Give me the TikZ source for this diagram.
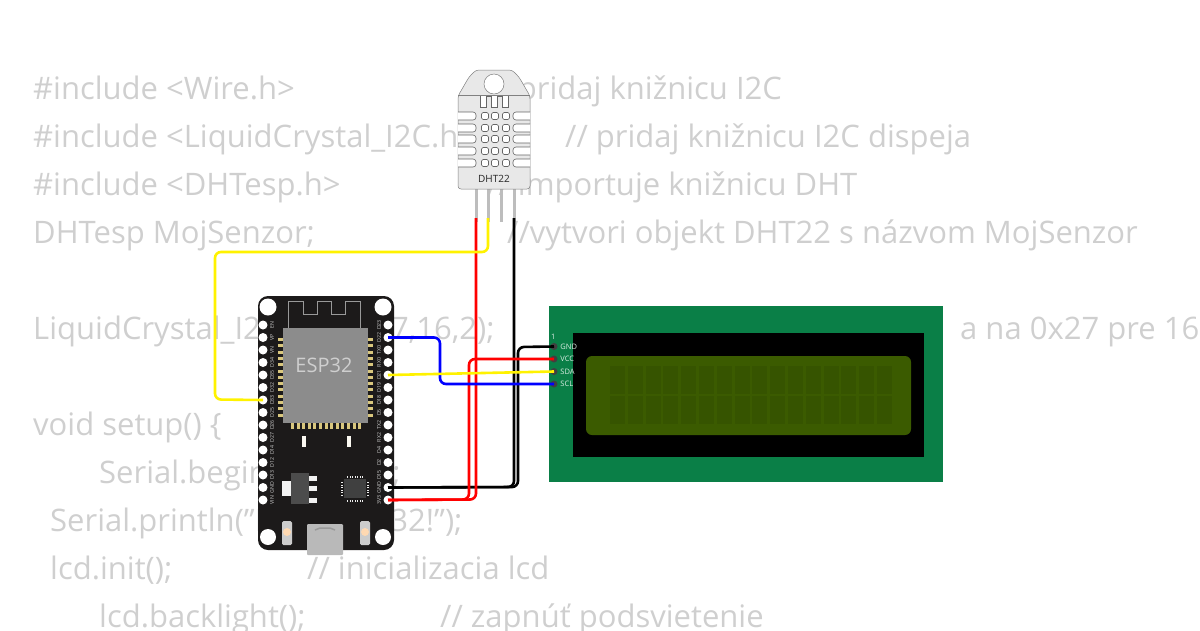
\documentclass[tikz,border=0pt]{standalone}
\usepackage{fontspec}
\setmainfont{Open Sans}
\usetikzlibrary{positioning}
\definecolor{codegray}{HTML}{CFCFCF}
\definecolor{boardblack}{HTML}{1C1A1A}
\definecolor{modgray}{HTML}{8C8C8C}
\definecolor{pingold}{HTML}{D9C77E}
\definecolor{lcdgreen}{HTML}{0A7F47}
\definecolor{lcdscreen}{HTML}{3B5B00}
\definecolor{lcdchar}{HTML}{365400}
\definecolor{dhtbody}{HTML}{E8E8E8}
\definecolor{dhtpin}{HTML}{BDBDBD}
\definecolor{wireyellow}{HTML}{FFF200}
\tikzset{
  codetext/.style={anchor=base west,inner sep=0pt,text=codegray,font=\fontsize{31}{31}\selectfont},
  hole/.style={circle,fill=white,inner sep=0pt,minimum size=#1},
  pinlabel/.style={inner sep=0pt,rotate=90,text=#1,font=\fontsize{5.2}{5.2}\selectfont},
  lcdlabel/.style={anchor=west,inner sep=0pt,text=white!85!lcdgreen,font=\fontsize{7.5}{7.5}\selectfont},
  lcdpin/.style={circle,fill=#1,inner sep=0pt,minimum size=7pt},
  wire/.style={line width=2.6pt,rounded corners=6pt,draw=#1},
}
\begin{document}
\begin{tikzpicture}[x=1pt,y=-1pt]
    \clip (0,0) rectangle (1200,630);

    % code behind the parts
    \node[codetext] (t1) at (33,99) {\#include <Wire.h>};
    \node[codetext] (t1b) at (487,99) {// pridaj knižnicu I2C};
    \node[codetext] (t2) at (33,147) {\#include <LiquidCrystal\_I2C.h>};
    \node[codetext] (t2b) at (565,147) {// pridaj knižnicu I2C dispeja};
    \node[codetext] (t3) at (33,195) {\#include <DHTesp.h>};
    \node[codetext] (t3b) at (487,195) {// importuje knižnicu DHT};
    \node[codetext] (t4) at (33,243) {DHTesp MojSenzor;};
    \node[codetext] (t4b) at (507,243) {//vytvori objekt DHT22 s názvom MojSenzor};
    \node[codetext] (t5) at (33,339) {LiquidCrystal\_I2C lcd(0x27,16,2);};
    \node[codetext] (t5b) at (960,339) {a na 0x27 pre 16};
    \node[codetext] (t6) at (33,435) {void setup() \{};
    \node[codetext] (t7) at (99,483) {Serial.begin(115200);};
    \node[codetext] (t8) at (50,531) {Serial.println("Hello ESP32!");};
    \node[codetext] (t9) at (50,579) {lcd.init();};
    \node[codetext] (t9b) at (307,579) {// inicializacia lcd};
    \node[codetext] (t10) at (99,627) {lcd.backlight();};
    \node[codetext] (t10b) at (440,627) {// zapnúť podsvietenie};

    % DHT22
    \foreach \x in {476,488,501,514}
      \draw[dhtpin,line width=3pt] (\x,185) -- (\x,222);
    \draw[fill=dhtbody,draw=gray,line width=0.5pt,rounded corners=3pt]
      (458,189) -- (458,96) -- (469,77) -- (476,70) -- (512,70) -- (519,77) -- (530,96) -- (530,189) -- cycle;
    \draw[gray,line width=0.5pt] (458,95) -- (530,95);
    \node[circle,draw=gray,fill=white,line width=0.5pt,inner sep=0pt,minimum size=20pt] (dhthole) at (494,84) {};
    \draw[fill=white,draw=gray!80!black,line width=0.6pt]
      (480,96) -- (480,107) -- (486,107) -- (486,96) -- (491,96) -- (491,107) -- (497,107) -- (497,96) -- (502,96) -- (502,107) -- (508,107) -- (508,96);
    \foreach \y in {116,128,139,151,163} {
      \draw[fill=white,draw=gray!80!black,line width=0.6pt,rounded corners=3pt]
        (458,\y-4) -- (476,\y-4) -- (476,\y+4) -- (458,\y+4);
      \draw[fill=white,draw=gray!80!black,line width=0.6pt,rounded corners=3pt]
        (530,\y-4) -- (513,\y-4) -- (513,\y+4) -- (530,\y+4);
      \foreach \x in {485,495,506}
        \draw[fill=white,draw=gray!80!black,line width=0.6pt,rounded corners=1.5pt]
          (\x-3.5,\y-3.5) rectangle (\x+3.5,\y+3.5);
    }
    \node[inner sep=0pt,text=black!85,font=\fontsize{10}{10}\selectfont] (dhtname) at (494,179) {DHT22};

    % ESP32 board
    \fill[boardblack,rounded corners=10pt] (258,296) rectangle (394,550);
    \node[hole=17pt] (mnt1) at (268,307) {};
    \node[hole=17pt] (mnt2) at (383,307) {};
    \node[hole=16pt] (mnt3) at (268,537) {};
    \node[hole=16pt] (mnt4) at (383,537) {};
    \draw[gray!80,line width=0.8pt]
      (288,328) -- (288,301) -- (303,301) -- (303,314) -- (317,314) -- (317,301) -- (331,301) -- (331,314) -- (345,314) -- (345,301) -- (360,301) -- (360,328);
    \foreach \i/\name [count=\n from 0] in {a/EN,b/VP,c/VN,d/D34,e/D35,f/D32,g/D33,h/D25,i/D26,j/D27,k/D14,l/D12,m/D13,n/GND,o/VIN} {
      \node[hole=9pt] (l\i) at (263,325+12.5*\n) {};
      \node[pinlabel=white!80!black] (ll\i) at (272,325+12.5*\n) {\name};
    }
    \foreach \i/\name [count=\n from 0] in {a/D23,b/D22,c/TX0,d/RX0,e/D21,f/D19,g/D18,h/D5,i/TX2,j/RX2,k/D4,l/D2,m/D15,n/GND,o/3V3} {
      \node[hole=9pt] (r\i) at (388,325+12.5*\n) {};
      \node[pinlabel=white!80!black] (rl\i) at (379,325+12.5*\n) {\name};
    }
    \foreach \n in {0,...,12} {
      \fill[pingold] (278,338+6.3*\n) rectangle (283,341+6.3*\n);
      \fill[pingold] (368,338+6.3*\n) rectangle (373,341+6.3*\n);
    }
    \foreach \n in {0,...,12}
      \fill[pingold] (291+5.6*\n,423) rectangle (294+5.6*\n,429);
    \fill[modgray] (283,328) rectangle (368,423);
    \node[inner sep=0pt,text=codegray,font=\fontsize{20}{20}\selectfont] (espname) at (324,365) {ESP32};
    \fill[white!90!pingold] (302,436) rectangle (306,447);
    \fill[white!90!pingold] (347,436) rectangle (351,447);
    % regulator
    \fill[white!90!gray] (282,481) rectangle (291,496);
    \fill[black!70] (291,473) rectangle (309,504);
    \foreach \y in {478,488,500}
      \fill[white!90!gray] (309,\y-2.5) rectangle (317,\y+2.5);
    % usb chip
    \fill[black!75] (344,479) rectangle (366,498);
    \foreach \n in {0,...,6} {
      \fill[white!85!gray] (347+2.5*\n,475.5) rectangle (348.2+2.5*\n,477.5);
      \fill[white!85!gray] (347+2.5*\n,499.5) rectangle (348.2+2.5*\n,501.5);
    }
    \foreach \n in {0,...,5} {
      \fill[white!85!gray] (341,482+2.5*\n) rectangle (343,483.2+2.5*\n);
      \fill[white!85!gray] (367,482+2.5*\n) rectangle (369,483.2+2.5*\n);
    }
    % usb and buttons
    \fill[gray!55,rounded corners=1pt] (307,524) rectangle (343,555);
    \draw[gray!80,line width=1.5pt] (315,530) -- (320,528) -- (330,528) -- (335,530);
    \foreach \x in {287,365} {
      \fill[gray!40,rounded corners=1.5pt] (\x-5,521) rectangle (\x+5,545);
      \fill[white!70!orange] (\x,532) circle (4);
    }

    % LCD
    \fill[lcdgreen] (549,306) rectangle (943,482);
    \fill[black] (573,333) rectangle (924,457);
    \fill[lcdscreen,rounded corners=6pt] (586,356) rectangle (911,435);
    \foreach \n in {0,...,15} {
      \fill[lcdchar] (610+17.8*\n,366) rectangle (625+17.8*\n,394);
      \fill[lcdchar] (610+17.8*\n,396) rectangle (625+17.8*\n,424);
    }
    \node[lcdlabel] (lcdone) at (551,337) {1};
    \node[lcdpin=black!75] (lcdgnd) at (554,346.5) {};
    \node[lcdpin=black!75] (lcdvcc) at (554,359) {};
    \node[lcdpin=black!75] (lcdsda) at (554,371.5) {};
    \node[lcdpin=black!75] (lcdscl) at (554,384) {};
    \node[lcdlabel,right=2.5pt of lcdgnd] (lgnd) {GND};
    \node[lcdlabel,right=2.5pt of lcdvcc] (lvcc) {VCC};
    \node[lcdlabel,right=2.5pt of lcdsda] (lsda) {SDA};
    \node[lcdlabel,right=2.5pt of lcdscl] (lscl) {SCL};

    % dht pin ends
    \coordinate (dhtvcc) at (476,218);
    \coordinate (dhtdata) at (488,218);
    \coordinate (dhtgnd) at (514,218);

    % wires
    \draw[wire=black] (rn.center) -- (514,487) -- (dhtgnd);
    \draw[wire=black] (rn.center) -- (518,487) -- (518,347) -- (lcdgnd.center);
    \draw[wire=red] (ro.center) -- (476,499.5) -- (dhtvcc);
    \draw[wire=red] (ro.center) -- (469,499.5) -- (469,359) -- (lcdvcc.center);
    \draw[wire=wireyellow] (dhtdata) -- (488,252) -- (215,252) -- (215,399.5) -- (lg.center);
    \draw[wire=blue] (rb.center) -- (440,337.5) -- (440,384) -- (lcdscl.center);
    \draw[wire=wireyellow] (re.center) -- (lcdsda.center);
\end{tikzpicture}
\end{document}
